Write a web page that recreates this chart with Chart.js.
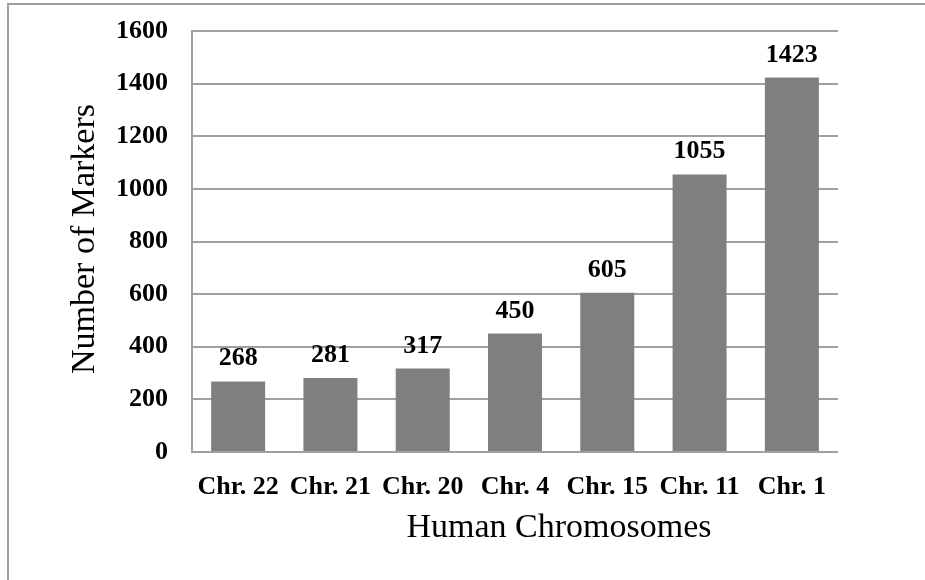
<!DOCTYPE html>
<html>
<head>
<meta charset="utf-8">
<script src="https://cdn.jsdelivr.net/npm/chart.js@4.4.1/dist/chart.umd.min.js"></script>
<style>
  html, body { margin: 0; padding: 0; background: #ffffff; overflow: hidden; }
  #wrap { position: relative; width: 925px; height: 580px; }
  #frame { position: absolute; left: 7px; top: 3px; width: 1200px; height: 1200px;
           border-left: 2px solid #a0a0a0; border-top: 2px solid #a0a0a0; pointer-events: none; }
  canvas { position: absolute; left: 0; top: 0; }
</style>
</head>
<body>
<div id="wrap">
  <div id="frame"></div>
  <canvas id="c" width="925" height="580"></canvas>
</div>
<script>
const categories = ["Chr. 22", "Chr. 21", "Chr. 20", "Chr. 4", "Chr. 15", "Chr. 11", "Chr. 1"];
const markerCounts = [268, 281, 317, 450, 605, 1055, 1423];
const yTicks = [0, 200, 400, 600, 800, 1000, 1200, 1400, 1600];
const xTitle = "Human Chromosomes";
const yTitle = "Number of Markers";

const SERIF = "'Liberation Serif', 'Times New Roman', serif";

const valueLabels = {
  id: 'valueLabels',
  afterDatasetsDraw(chart) {
    const ctx = chart.ctx;
    const meta = chart.getDatasetMeta(0);
    ctx.save();
    ctx.font = "bold 26px " + SERIF;
    ctx.fillStyle = "#000";
    ctx.textAlign = "center";
    ctx.textBaseline = "alphabetic";
    meta.data.forEach((bar, i) => {
      ctx.fillText(String(markerCounts[i]), bar.x, bar.y - 16);
    });
    ctx.restore();
  }
};

const axisTitles = {
  id: 'axisTitles',
  afterDraw(chart) {
    const ctx = chart.ctx;
    ctx.save();
    ctx.font = "34px " + SERIF;
    ctx.fillStyle = "#000";
    ctx.textAlign = "center";
    ctx.textBaseline = "middle";
    ctx.fillText(xTitle, 559, 528);
    ctx.translate(85, 239);
    ctx.rotate(-Math.PI / 2);
    ctx.fillText(yTitle, 0, 0);
    ctx.restore();
  }
};

new Chart(document.getElementById('c'), {
  type: 'bar',
  data: {
    labels: categories,
    datasets: [{
      data: markerCounts,
      backgroundColor: '#7f7f7f',
      borderWidth: 0,
      barPercentage: 0.585,
      categoryPercentage: 1.0
    }]
  },
  options: {
    responsive: false,
    animation: false,
    devicePixelRatio: 1,
    layout: { padding: { left: 0, top: 31, right: 87, bottom: 0 } },
    plugins: { legend: { display: false }, tooltip: { enabled: false }, title: { display: false } },
    scales: {
      x: {
        grid: { display: false, drawTicks: false },
        border: { display: false },
        ticks: { color: '#000', font: { family: SERIF, size: 26, weight: 'bold' }, padding: 20, maxRotation: 0, autoSkip: false },
        afterFit(scale) { scale.height = 128; scale.paddingLeft = 0; scale.paddingRight = 0; }
      },
      y: {
        min: 0, max: 1600,
        afterBuildTicks(scale) { scale.ticks = yTicks.map(v => ({ value: v })); },
        grid: { color: '#a0a0a0', lineWidth: 2, drawTicks: false },
        border: { display: true, color: '#a0a0a0', width: 2 },
        ticks: { color: '#000', font: { family: SERIF, size: 26, weight: 'bold' }, padding: 24,
                 callback: (v) => String(v) },
        afterFit(scale) { scale.width = 192; scale.paddingTop = 0; scale.paddingBottom = 0; }
      }
    }
  },
  plugins: [valueLabels, axisTitles]
});
</script>
</body>
</html>
